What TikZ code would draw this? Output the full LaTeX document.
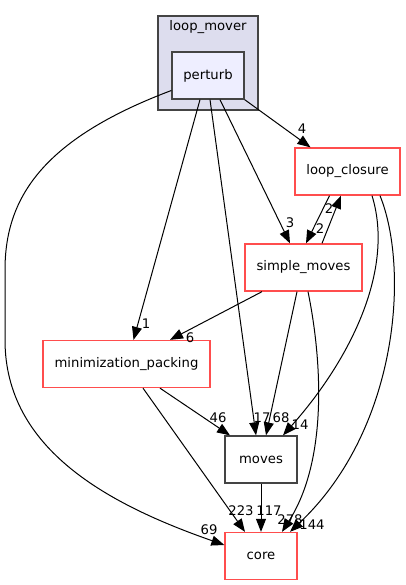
\documentclass[tikz,border=0pt]{standalone}
\usepackage{fontspec}
\setmainfont{DejaVu Sans}
\usetikzlibrary{arrows.meta}
\definecolor{doxred}{HTML}{FF4D4D}
\definecolor{doxframe}{HTML}{444444}
\definecolor{doxcluster}{HTML}{DDDDEE}
\definecolor{doxnode}{HTML}{EEEEFF}

\tikzset{
  dirbox/.style={draw=doxred, line width=1.3pt, fill=white, inner sep=0pt, minimum height=47pt},
  plainbox/.style={draw=doxframe, line width=1.3pt, fill=white, inner sep=0pt, minimum height=47pt},
  edge/.style={draw=black, line width=1pt, -{Triangle[length=13pt,width=10pt]}},
  elabel/.style={inner sep=0pt, font=\fontsize{13.2}{15}\selectfont}
}

\begin{document}
\begin{tikzpicture}[x=1pt, y=-1pt, font=\fontsize{13.2}{15}\selectfont]
\useasboundingbox (0,0) rectangle (405,585);

\draw[fill=doxcluster, draw=doxframe, line width=1.3pt] (158,16) rectangle (258,110);
\node (loopmover) at (208,27) {loop\_mover};

\node[plainbox, fill=doxnode, minimum width=72pt] (perturb) at (208,75.5) {perturb};
\node[dirbox, minimum width=105pt] (loopclosure) at (347.5,171.5) {loop\_closure};
\node[dirbox, minimum width=117pt] (simplemoves) at (303.5,267.5) {simple\_moves};
\node[dirbox, minimum width=167pt] (minpacking) at (126.5,364) {minimization\_packing};
\node[plainbox, minimum width=72pt] (moves) at (261,459.5) {moves};
\node[dirbox, minimum width=72pt] (core) at (261,556) {core};

\draw[edge] ([yshift=-15pt]perturb.west) .. controls (40,140) and (5,200) .. (5,270) -- (5,340) .. controls (5,450) and (110,505) .. ([yshift=11pt]core.west);
\draw[edge] (perturb.south east) -- ([xshift=-37pt]loopclosure.north);
\draw[edge] ([xshift=-8pt]perturb.south) -- ([xshift=7pt]minpacking.north);
\draw[edge] ([xshift=2pt]perturb.south) -- ([xshift=-5pt]moves.north);
\draw[edge] ([xshift=12pt]perturb.south) -- ([xshift=-13.5pt]simplemoves.north);
\draw[edge] ([xshift=-18pt]loopclosure.south) -- ([xshift=2.5pt]simplemoves.north);
\draw[edge] ([xshift=18.5pt]simplemoves.north) -- ([xshift=-6.5pt]loopclosure.south);
\draw[edge] ([xshift=24.5pt]loopclosure.south) .. controls (395,270) and (350,360) .. ([xshift=22pt]moves.north);
\draw[edge] ([xshift=32.5pt]loopclosure.south) .. controls (410,270) and (398,430) .. ([xshift=29pt]core.north);
\draw[edge] ([xshift=-41.5pt]simplemoves.south) -- ([xshift=43.5pt]minpacking.north);
\draw[edge] ([xshift=-6.5pt]simplemoves.south) -- ([xshift=5pt]moves.north);
\draw[edge] ([xshift=4.5pt]simplemoves.south) .. controls (322,360) and (328,460) .. ([xshift=21pt]core.north);
\draw[edge] ([xshift=33.5pt]minpacking.south) -- ([xshift=-31pt]moves.north);
\draw[edge] ([xshift=16.5pt]minpacking.south) -- ([xshift=-16pt]core.north);
\draw[edge] (moves.south) -- (core.north);

\node[elabel] (n69) at (209,530) {69};
\node[elabel] (n4) at (302,129) {4};
\node[elabel] (n1) at (146,324) {1};
\node[elabel] (n17) at (262,418) {17};
\node[elabel] (n3) at (290,223) {3};
\node[elabel] (n2a) at (320,229) {2};
\node[elabel] (n2b) at (329,209) {2};
\node[elabel] (n14) at (300,425) {14};
\node[elabel] (n144) at (312,525) {144};
\node[elabel] (n6) at (190,338) {6};
\node[elabel] (n68) at (281,418) {68};
\node[elabel] (n278) at (290,520) {278};
\node[elabel] (n46) at (218,418) {46};
\node[elabel] (n223) at (241,511) {223};
\node[elabel] (n117) at (269,511) {117};
\end{tikzpicture}
\end{document}
